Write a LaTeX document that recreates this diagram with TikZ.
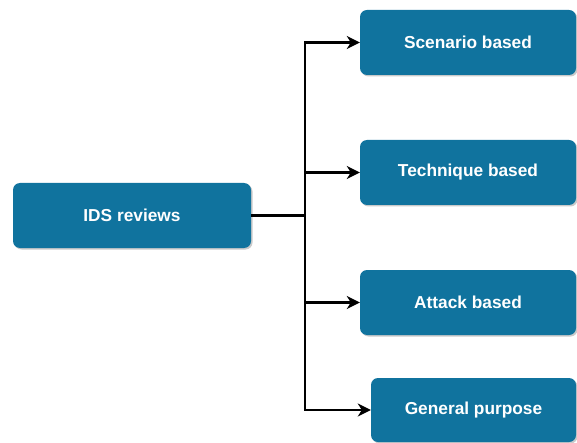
\documentclass[tikz,border=0pt]{standalone}
\usepackage{fontspec}
\setmainfont{Liberation Sans}
\usetikzlibrary{arrows.meta,shadows}
\definecolor{boxblue}{HTML}{10739E}
\begin{document}
\begin{tikzpicture}[x=1pt,y=-1pt,
  box/.style={fill=boxblue, draw=none, rounded corners=7pt,
    drop shadow={shadow xshift=1.5pt, shadow yshift=-1.5pt, opacity=0.35, fill=black!60},
    text=white, font=\bfseries\fontsize{17.3}{20}\selectfont},
  conn/.style={line width=2.6pt, -{Stealth[length=13pt,width=13pt,inset=4pt]}}]
\useasboundingbox (0,0) rectangle (577,443);
\node[box, minimum width=238pt, minimum height=65pt] (ids) at (132,215.5) {IDS reviews};
\node[box, minimum width=216pt, minimum height=65pt] (scen) at (468,42.5) {Scenario based};
\node[box, minimum width=216pt, minimum height=65pt] (tech) at (468,172.5) {Technique based};
\node[box, minimum width=216pt, minimum height=65pt] (att) at (468,302.5) {Attack based};
\node[box, minimum width=205pt, minimum height=64pt] (gen) at (473.5,410) {General purpose};
\coordinate (j) at (305,215.5);
\draw[line width=2.6pt] (ids.east) -- (j);
\draw[conn] (j) |- (scen.west);
\draw[conn] (j) |- (tech.west);
\draw[conn] (j) |- (att.west);
\draw[conn] (j) |- (gen.west);
\end{tikzpicture}
\end{document}
